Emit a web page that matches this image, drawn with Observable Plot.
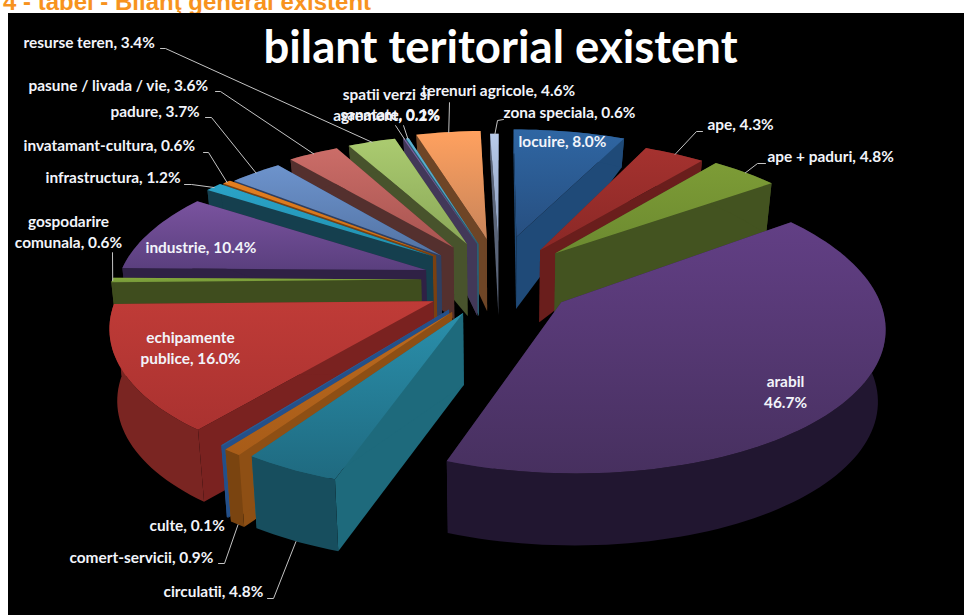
<!DOCTYPE html>
<html><head><meta charset="utf-8">
<script src="https://cdn.jsdelivr.net/npm/d3@7"></script>
<script src="https://cdn.jsdelivr.net/npm/@observablehq/plot@0.6"></script>
<style>
html,body{margin:0;padding:0;background:#fff;width:964px;height:615px;overflow:hidden}
#head{position:absolute;left:3px;top:-10px;font:bold 24px "Liberation Sans",Arial,sans-serif;color:#f7931e;white-space:nowrap;line-height:24px}
#chart{position:absolute;left:8px;top:13px;width:956px;height:602px;background:#000}
#chart svg{display:block;background:#000}
</style></head><body>
<div id="head">4 - tabel - Bilanţ general existent</div>
<div id="chart"></div>
<script>
// data, clockwise from the back of the pie
const categories = ["locuire","ape","ape + paduri","arabil","circulatii","comert-servicii","culte","echipamente publice","gospodarire comunala","industrie","infrastructura","invatamant-cultura","padure","pasune / livada / vie","resurse teren","sanatate","spatii verzi si agrement","terenuri agricole","zona speciala"];
const percents = [8.0,4.3,4.8,46.7,4.8,0.9,0.1,16.0,0.6,10.4,1.2,0.6,3.7,3.6,3.4,0.1,0.2,4.6,0.6];
// how far each exploded slice is pulled out on the table, and any slight turn (degrees)
const pullX = [0.05,0.12,0.165,0.17,-0.101,-0.131,-0.14,-0.185,-0.226,-0.215,-0.2,-0.19,-0.175,-0.14,-0.1,-0.07,-0.065,-0.04,-0.005];
const pullY = [0.175,0.08,0.06,-0.257,-0.32,-0.315,-0.30,-0.25,-0.116,-0.053,0.04,0.045,0.045,0.1,0.125,0.125,0.125,0.16,0.13];
const turn = [0,0,0,0,-1.8,-1.8,-1.8,0,0,0,0,0,0,0,0,0,0,0,0];
const topLight = ["#2f66a3","#a5322f","#7d9c36","#623f85","#2a8fab","#bb6a1f","#2e64a0","#bf3b37","#84a83c","#7a539f","#2ba3c8","#e57f20","#6d93cc","#cb6d68","#abcb70","#7b63a3","#5cb3d3","#ffa15f","#b8cbea"];
const topDark  = ["#274f80","#8a2826","#6c8a30","#47305f","#1f6a80","#a85c18","#2a5a90","#aa3230","#76983a","#5a3f7e","#2190ae","#c87018","#5273a4","#a85450","#8aa858","#6a5590","#4a9bb8","#c8845a","#8a9cbc"];
const wallSide = ["#1f4a78","#6a1e1c","#435320","#2f2145","#1e6a7c","#8e4f14","#24508a","#7a2220","#3f4d1e","#2f2145","#153f4e","#7a4010","#2f3f60","#54302e","#48532c","#423858","#2a5f73","#6e4526","#5a6478"];
const wallRim  = ["#1f4a78","#6a1e1c","#435320","#211630","#174e5e","#7a4410","#24508a","#7a2522","#3f4d1e","#2f2145","#153f4e","#7a4010","#2f3f60","#54302e","#48532c","#423858","#2a5f73","#6e4526","#5a6478"];
const paintOrder = ["zona speciala","terenuri agricole","spatii verzi si agrement","sanatate","resurse teren","pasune / livada / vie","padure","invatamant-cultura","infrastructura","industrie","gospodarire comunala","echipamente publice","culte","comert-servicii","circulatii","locuire","ape","ape + paduri","arabil"];

// labels
const labelText = ["resurse teren, 3.4%","pasune / livada / vie, 3.6%","padure, 3.7%","invatamant-cultura, 0.6%","infrastructura, 1.2%","gospodarire\ncomunala, 0.6%","industrie, 10.4%","echipamente\npublice, 16.0%","culte, 0.1%","comert-servicii, 0.9%","circulatii, 4.8%","arabil\n46.7%","locuire, 8.0%","ape, 4.3%","ape + paduri, 4.8%","zona speciala, 0.6%","terenuri agricole, 4.6%","spatii verzi si\nagrement, 0.2%","sanatate, 0.1%"];
const labelX = [23,28,110,23,45,68,145,190,149,69,163,785,518,707,767,503,421,386,340];
const labelY = [41,84,110,144,176,230,246,346,524,556,590,390,140,123,155,111,89,103,113];
const labelAnchor = ["start","start","start","start","start","middle","start","middle","start","start","start","middle","start","start","start","start","start","middle","start"];
// leader lines: slice, where it leaves the label, its elbow, rim top or bottom
const leaderSlice = ["resurse teren","pasune / livada / vie","padure","invatamant-cultura","infrastructura","gospodarire comunala","sanatate","spatii verzi si agrement","terenuri agricole","zona speciala","ape","ape + paduri","comert-servicii","circulatii"];
const leaderFromX = [160,215,205,203,184,112,395,403,449,503,702,765,218,267];
const leaderFromY = [48,91,117,152,184,252,125,125,102,119,131,163,563,598];
const leaderElbowX = [165,220,211,208,191,112,395,403,449,497,696,757,224,273];
const leaderElbowY = [48,91,117,152,184,252,125,125,102,120,131,163,563,598];
const leaderAtBottom = [0,0,0,0,0,0,0,0,0,0,0,0,1,1];

// camera of the tilted table: a homography on the pie's plane
const cx = 500, cy = 262, A = 340, B = 148, P = 0.22, depthFall = 0.02;
const radius = a => 0.885 + 0.055 * Math.cos(a);
const sx = (X, Y) => cx + A * X / (1 + P * Y);
const sy = (X, Y) => cy - B * Y / (1 + P * Y);
const wall = Y => 72 - 42 * Math.max(0, (Y - 0.2) / 0.8);
const topPt = (X, Y) => ({x: sx(X, Y), y: sy(X, Y)});
const botPt = (X, Y) => {const x = sx(X, Y); return {x: x + (cx - x) * depthFall, y: sy(X, Y) + wall(Y)};};

const arcs = d3.pie().sort(null).value(d => d)(percents);
const geo = new Map(categories.map((c, i) => {
  const t = turn[i] * Math.PI / 180;
  return [c, {i, a0: arcs[i].startAngle + t, a1: arcs[i].endAngle + t, X0: pullX[i], Y0: pullY[i]}];
}));
const rimXY = (g, a) => [g.X0 + radius(a) * Math.sin(a), g.Y0 + radius(a) * Math.cos(a)];

const rows = [];
let pid = 0;
function pushPoly(fill, tops, bots) {
  const id = pid++;
  tops.forEach((t, k) => rows.push({id, fill, x1: t.x, y1: t.y, x2: bots[k].x, y2: bots[k].y}));
}
paintOrder.forEach(name => {
  const g = geo.get(name), i = g.i;
  const apexT = topPt(g.X0, g.Y0), apexB = botPt(g.X0, g.Y0);
  const n = Math.max(2, Math.ceil((g.a1 - g.a0) / 0.03));
  const as = d3.range(n + 1).map(k => g.a0 + (g.a1 - g.a0) * k / n);
  const rimT = as.map(a => topPt(...rimXY(g, a)));
  const rimB = as.map(a => botPt(...rimXY(g, a)));
  pushPoly(wallSide[i], [apexT, rimT[0]], [apexB, rimB[0]]);
  pushPoly(wallSide[i], [apexT, rimT[n]], [apexB, rimB[n]]);
  pushPoly(wallRim[i], rimT, rimB);
  pushPoly(`url(#top${i})`, rimT, rimT.map(() => apexT));
});

const leaders = [];
leaderSlice.forEach((name, k) => {
  const g = geo.get(name), a = (g.a0 + g.a1) / 2, xy = rimXY(g, a);
  const end = leaderAtBottom[k] ? botPt(...xy) : topPt(...xy);
  [[leaderFromX[k], leaderFromY[k]], [leaderElbowX[k], leaderElbowY[k]], [end.x, end.y]]
    .forEach(([x, y]) => leaders.push({k, x, y}));
});

const labels = labelText.map((text, i) => ({text, x: labelX[i], y: labelY[i], anchor: labelAnchor[i]}));

const defs = () => {
  const d = d3.create("svg:defs");
  categories.forEach((c, i) => {
    const lg = d.append("linearGradient").attr("id", `top${i}`).attr("x1", 0).attr("y1", 0).attr("x2", 0).attr("y2", 1);
    lg.append("stop").attr("offset", 0).attr("stop-color", topLight[i]);
    lg.append("stop").attr("offset", 1).attr("stop-color", topDark[i]);
  });
  return d.node();
};
const font = "Lato, Carlito, sans-serif";
const textFor = anchor => Plot.text(labels.filter(l => l.anchor === anchor), {
  x: "x", y: "y", text: "text", textAnchor: anchor, lineAnchor: "middle", lineHeight: 1.4,
  fill: "#f2f4fa", fontSize: 15.4, fontWeight: 700, fontFamily: font
});
const chart = Plot.plot({
  width: 956, height: 602, margin: 0,
  x: {domain: [8, 964], range: [0, 956], axis: null},
  y: {domain: [13, 615], range: [0, 602], axis: null},
  style: {background: "#000"},
  marks: [
    defs,
    Plot.area(rows, {x1: "x1", y1: "y1", x2: "x2", y2: "y2", z: "id", fill: {value: "fill", scale: null}}),
    Plot.line(leaders, {x: "x", y: "y", z: "k", stroke: "#c4c4c4", strokeWidth: 1}),
    textFor("start"), textFor("middle"),
    Plot.text(["bilant teritorial existent"], {x: [500], y: [48], text: d => d, fill: "#fff", fontSize: 45.5, fontWeight: 700, fontFamily: font, lineAnchor: "middle"})
  ]
});
document.getElementById("chart").append(chart);
</script></body></html>
